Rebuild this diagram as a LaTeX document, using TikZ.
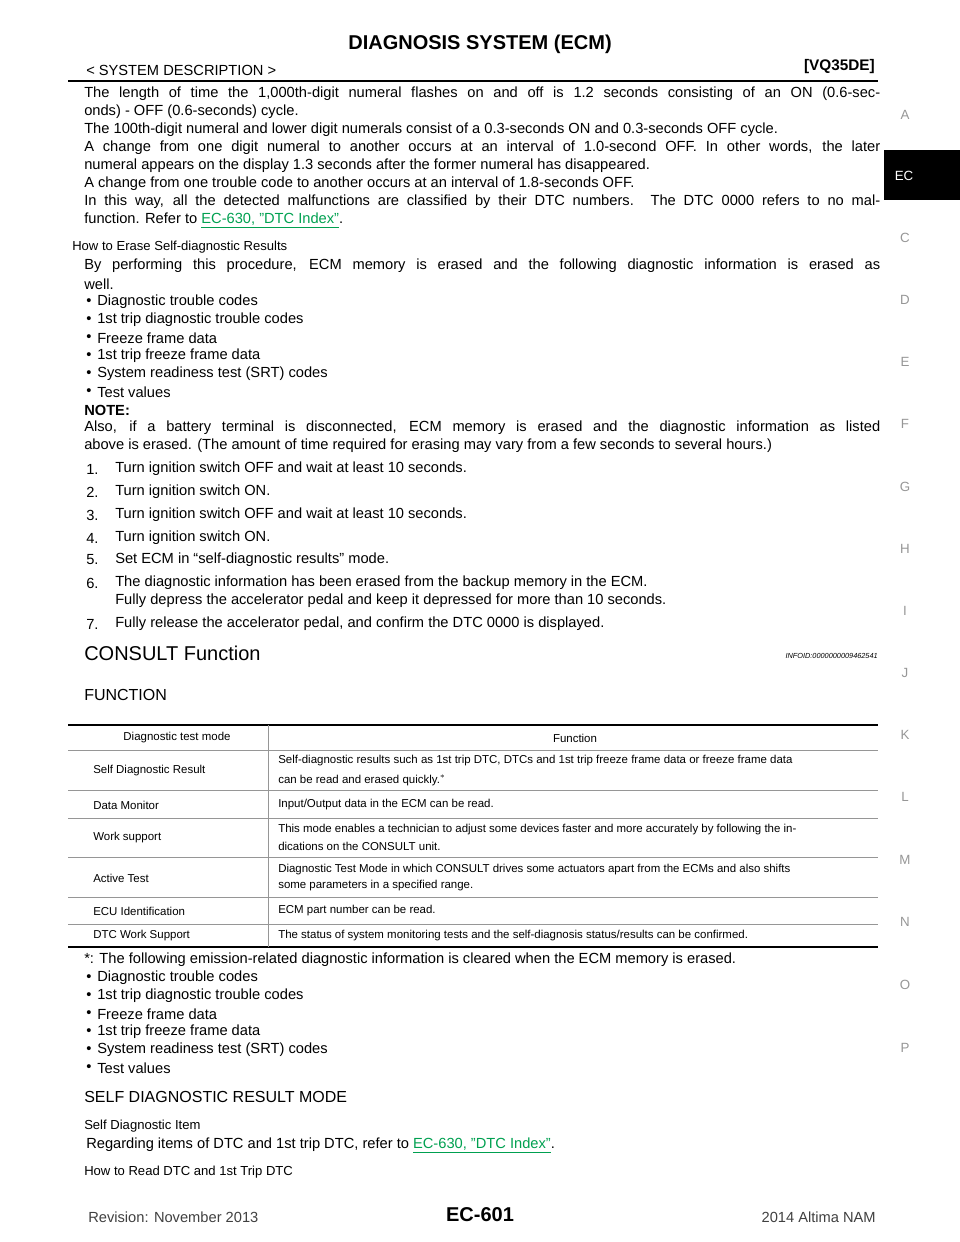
\documentclass[tikz,border=0pt]{standalone}
\usepackage{fontspec}
\setmainfont{Liberation Sans}
\usepackage{xcolor}
\definecolor{lnk}{RGB}{0,160,80}
\definecolor{tabgray}{RGB}{150,150,150}
\newcommand{\lk}[1]{\textcolor{lnk}{\underline{#1}}}
\newcommand{\bt}{\fontsize{11}{13}\selectfont}
\newcommand{\sm}{\fontsize{9.8}{12}\selectfont}
\newcommand{\tb}{\fontsize{8.6}{10}\selectfont}
\newcommand{\jl}[1]{\makebox[597pt][s]{#1}}
\begin{document}
\begin{tikzpicture}[x=0.75pt,y=-0.75pt,
  L/.style={anchor=west,inner sep=0pt},
  T/.style={anchor=west,inner sep=0pt,font=\tb},
  side/.style={text=tabgray,font=\fontsize{10}{12}\selectfont}]
\useasboundingbox (0,0) rectangle (960,1242);
% header
\node[font=\fontsize{15}{18}\selectfont\bfseries] (title) at (480,44) {DIAGNOSIS SYSTEM (ECM)};
\node[L,font=\fontsize{11}{13}\selectfont] (sd) at (86,70) {< SYSTEM DESCRIPTION >};
\node[anchor=east,inner sep=0pt,font=\fontsize{11.5}{13}\selectfont\bfseries] (vq) at (875,67) {[VQ35DE]};
\draw[line width=1.5pt] (68,81) -- (878,81);
% side tabs
\fill (884,150) rectangle (960,200);
\node[text=white,font=\fontsize{10}{12}\selectfont] (ec) at (904,176) {EC};
\foreach \l/\y in {A/115,C/238,D/300,E/362,F/424,G/487,H/549,I/611,J/673,K/735,L/797,M/860,N/922,O/985,P/1048}
  \node[side] (s\l) at (905,\y) {\l};
% paragraph 1
\begin{scope}[every node/.style={L,font=\bt}]
\node (p1) at (84,94) {\jl{The length of time the 1,000th-digit numeral flashes on and off is 1.2 seconds consisting of an ON (0.6-sec-}};
\node (p2) at (84,112) {onds) - OFF (0.6-seconds) cycle.};
\node (p3) at (84,130) {The 100th-digit numeral and lower digit numerals consist of a 0.3-seconds ON and 0.3-seconds OFF cycle.};
\node (p4) at (84,148) {\jl{A change from one digit numeral to another occurs at an interval of 1.0-second OFF. In other words, the later}};
\node (p5) at (84,166) {numeral appears on the display 1.3 seconds after the former numeral has disappeared.};
\node (p6) at (84,184) {A change from one trouble code to another occurs at an interval of 1.8-seconds OFF.};
\node (p7) at (84,202) {\jl{In this way, all the detected malfunctions are classified by their DTC numbers. The DTC 0000 refers to no mal-}};
\node (p8) at (84,220) {function. Refer to \lk{EC-630, "DTC\ Index"}.};
\node[font=\sm] (h1) at (72,247) {How to Erase Self-diagnostic Results};
\node (q1) at (84,266) {\jl{By performing this procedure, ECM memory is erased and the following diagnostic information is erased as}};
\node (q2) at (84,284) {well.};
\foreach \t [count=\i] in {Diagnostic trouble codes,1st trip diagnostic trouble codes,Freeze frame data,1st trip freeze frame data,System readiness test (SRT) codes,Test values}{
  \node (b\i) at (86,284+18*\i) {•};
  \node (bt\i) at (97,284+18*\i) {\t};}
\node[font=\bt\bfseries] (note) at (84,410) {NOTE:};
\node (n1) at (84,428) {\jl{Also, if a battery terminal is disconnected, ECM memory is erased and the diagnostic information as listed}};
\node (n2) at (84,446) {above is erased. (The amount of time required for erasing may vary from a few seconds to several hours.)};
\foreach \t/\y [count=\i] in {Turn ignition switch OFF and wait at least 10 seconds./469,Turn ignition switch ON./492,Turn ignition switch OFF and wait at least 10 seconds./515,Turn ignition switch ON./538,Set ECM in “self-diagnostic results” mode./560,The diagnostic information has been erased from the backup memory in the ECM./583,{Fully release the accelerator pedal, and confirm the DTC 0000 is displayed.}/624}{
  \node (k\i) at (86,\y) {\i.};
  \node (kt\i) at (115,\y) {\t};}
\node (k6b) at (115,601) {Fully depress the accelerator pedal and keep it depressed for more than 10 seconds.};
\node[font=\fontsize{15}{18}\selectfont] (cf) at (84,653) {CONSULT Function};
\node[anchor=east,font=\fontsize{5.5}{7}\selectfont\itshape] (info) at (878,656) {INFOID:0000000009462541};
\node[font=\fontsize{12}{14}\selectfont] (fn) at (84,695) {FUNCTION};
\end{scope}
% table
\draw[line width=1.2pt] (68,725) -- (878,725);
\draw[line width=1.2pt] (68,947) -- (878,947);
\foreach \y in {750,790,818,857,897,924} \draw[tabgray,line width=0.4pt] (68,\y) -- (878,\y);
\draw[tabgray,line width=0.4pt] (268,725) -- (268,947);
\node[font=\tb] (th1) at (177,738) {Diagnostic test mode};
\node[font=\tb] (th2) at (575,738) {Function};
\node[T] (r1a) at (93,771) {Self Diagnostic Result};
\node[T] (r1b) at (278,761) {Self-diagnostic results such as 1st trip DTC, DTCs and 1st trip freeze frame data or freeze frame data};
\node[T] (r1c) at (278,780) {can be read and erased quickly.$^{*}$};
\node[T] (r2a) at (93,805) {Data Monitor};
\node[T] (r2b) at (278,805) {Input/Output data in the ECM can be read.};
\node[T] (r3a) at (93,838) {Work support};
\node[T] (r3b) at (278,830) {This mode enables a technician to adjust some devices faster and more accurately by following the in-};
\node[T] (r3c) at (278,846) {dications on the CONSULT unit.};
\node[T] (r4a) at (93,878) {Active Test};
\node[T] (r4b) at (278,870) {Diagnostic Test Mode in which CONSULT drives some actuators apart from the ECMs and also shifts};
\node[T] (r4c) at (278,886) {some parameters in a specified range.};
\node[T] (r5a) at (93,911) {ECU Identification};
\node[T] (r5b) at (278,911) {ECM part number can be read.};
\node[T] (r6a) at (93,936) {DTC Work Support};
\node[T] (r6b) at (278,936) {The status of system monitoring tests and the self-diagnosis status/results can be confirmed.};
% after table
\begin{scope}[every node/.style={L,font=\bt}]
\node (st) at (84,960) {*: The following emission-related diagnostic information is cleared when the ECM memory is erased.};
\foreach \t [count=\i] in {Diagnostic trouble codes,1st trip diagnostic trouble codes,Freeze frame data,1st trip freeze frame data,System readiness test (SRT) codes,Test values}{
  \node (c\i) at (86,960+18*\i) {•};
  \node (ct\i) at (97,960+18*\i) {\t};}
\node[font=\fontsize{12}{14}\selectfont] (sdr) at (84,1097) {SELF DIAGNOSTIC RESULT MODE};
\node[font=\sm] (sdi) at (84,1126) {Self Diagnostic Item};
\node (reg) at (86,1145) {Regarding items of DTC and 1st trip DTC, refer to \lk{EC-630, "DTC\ Index"}.};
\node[font=\sm] (hr) at (84,1172) {How to Read DTC and 1st Trip DTC};
\end{scope}
% footer
\node[L,font=\fontsize{11}{13}\selectfont,text=black!75] (rev) at (88,1217) {Revision: November 2013};
\node[font=\fontsize{15}{18}\selectfont\bfseries] (pg) at (480,1215) {EC-601};
\node[anchor=east,inner sep=0pt,font=\fontsize{11}{13}\selectfont,text=black!75] (alt) at (876,1217) {2014 Altima NAM};
\end{tikzpicture}
\end{document}
